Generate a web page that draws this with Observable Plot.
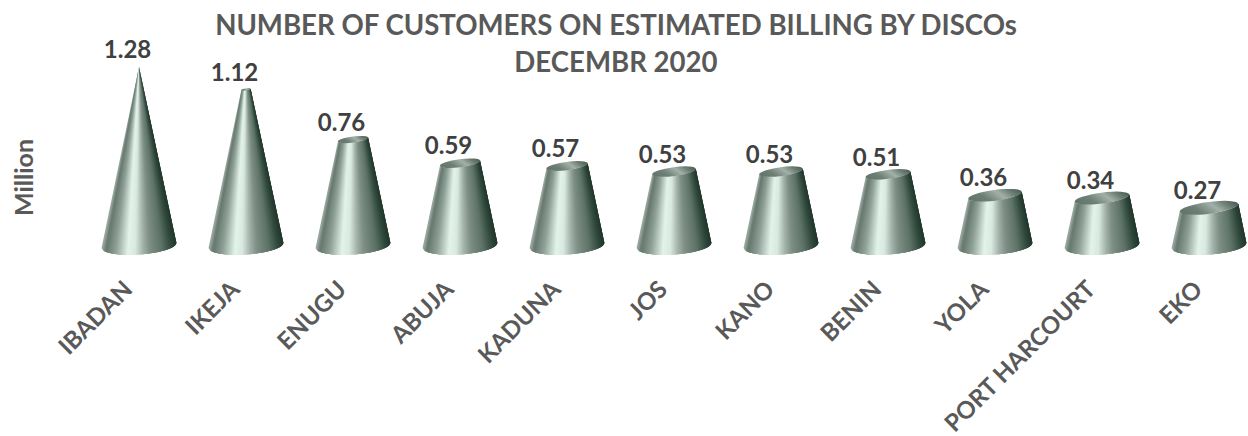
<!DOCTYPE html>
<html>
<head>
<meta charset="utf-8">
<script src="https://cdn.jsdelivr.net/npm/d3@7"></script>
<script src="https://cdn.jsdelivr.net/npm/@observablehq/plot@0.6"></script>
<style>
html,body{margin:0;padding:0;background:#fff;width:1248px;height:436px;overflow:hidden}
#wrap{position:relative;width:1248px;height:436px}
#title{position:absolute;left:0;top:7px;width:1232px;text-align:center;font:700 27.6px/36.5px Lato,sans-serif;color:#595959;z-index:2}
</style>
</head>
<body>
<div id="wrap"><div id="title">NUMBER OF CUSTOMERS ON ESTIMATED BILLING BY DISCOs<br>DECEMBR 2020</div></div>
<script>
const discos = ["IBADAN","IKEJA","ENUGU","ABUJA","KADUNA","JOS","KANO","BENIN","YOLA","PORT HARCOURT","EKO"];
const customers = [1.28,1.12,0.76,0.59,0.57,0.53,0.53,0.51,0.36,0.34,0.27];
const rows = discos.map((name,i)=>({name,value:customers[i]}));

// conical shading, left to right round the visible side of the cone
const shade = d3.scaleLinear()
  .domain([0,0.05,0.18,0.34,0.44,0.54,0.64,0.8,0.93,1])
  .range(["#a0aea6","#66776d","#8fa198","#e2f3ea","#d9e9e1","#a6b5ad","#7e8f86","#5e7368","#2f473b","#21362b"]);

const SVGNS = "http://www.w3.org/2000/svg";
const BASE_RX = 37.5, BASE_RY = 9, TOP_RATIO = 0.2, BASE_TILT = 4, TOP_TILT = 7.5, SLICES = 60;

function rim(cx, cy, rx, ry, tiltDeg, u){
  const a = tiltDeg*Math.PI/180, lx = rx*u, ly = ry*Math.sqrt(Math.max(0,1-u*u));
  return [cx + lx*Math.cos(a) + ly*Math.sin(a), cy - lx*Math.sin(a) + ly*Math.cos(a)];
}

function cones(index, scales, values, dimensions, context){
  const doc = context.document;
  const g = doc.createElementNS(SVGNS,"g");
  const defs = doc.createElementNS(SVGNS,"defs");
  const lg = doc.createElementNS(SVGNS,"linearGradient");
  lg.setAttribute("id","capGrad");
  lg.setAttribute("gradientTransform","rotate(-12 .5 .5)");
  [[0,"#62746a"],[0.3,"#6e8076"],[0.6,"#a3b0a9"],[0.8,"#6f8177"],[1,"#4c5f55"]].forEach(([o,c])=>{
    const s = doc.createElementNS(SVGNS,"stop");
    s.setAttribute("offset",o); s.setAttribute("stop-color",c); lg.appendChild(s);
  });
  defs.appendChild(lg); g.appendChild(defs);
  const yApex = scales.y(d3.max(customers));
  for(const i of index){
    const cx = values.x[i], yBase = values.y1[i], yTop = values.y2[i];
    const f = (yTop-yApex)/(yBase-yApex);
    const rxT = BASE_RX*f, ryT = rxT*TOP_RATIO;
    for(let k=0;k<SLICES;k++){
      const u0=2*k/SLICES-1, u1=2*Math.min(SLICES,k+1)/SLICES-1, um=2*Math.min(SLICES,k+3)/SLICES-1;
      const pts=[rim(cx,yBase,BASE_RX,BASE_RY,BASE_TILT,u0),rim(cx,yBase,BASE_RX,BASE_RY,BASE_TILT,u1),
                 rim(cx,yBase,BASE_RX,BASE_RY,BASE_TILT,um),rim(cx,yTop,rxT,ryT,TOP_TILT,um),
                 rim(cx,yTop,rxT,ryT,TOP_TILT,u1),rim(cx,yTop,rxT,ryT,TOP_TILT,u0)];
      const p = doc.createElementNS(SVGNS,"polygon");
      p.setAttribute("points",pts.map(q=>q.map(v=>v.toFixed(2)).join(",")).join(" "));
      p.setAttribute("fill",shade((k+0.5)/SLICES));
      g.appendChild(p);
    }
    if(rxT>0.5){
      const e = doc.createElementNS(SVGNS,"ellipse");
      e.setAttribute("cx",cx); e.setAttribute("cy",yTop);
      e.setAttribute("rx",rxT); e.setAttribute("ry",ryT);
      e.setAttribute("transform",`rotate(${-TOP_TILT} ${cx} ${yTop})`);
      e.setAttribute("fill","url(#capGrad)");
      g.appendChild(e);
    }
  }
  return g;
}

const chart = Plot.plot({
  width:1248, height:436,
  marginLeft:40, marginRight:0, marginTop:86, marginBottom:168,
  style:{fontFamily:"Lato, sans-serif", background:"transparent"},
  x:{type:"point", domain:discos, range:[137.5,1211], padding:0},
  y:{domain:[0,1.28], range:[245.5,67]},
  marks:[
    Plot.ruleX(rows,{x:"name", y1:0, y2:"value", render:cones}),
    Plot.text(rows,{x:"name", y:"value", text:d=>d.value.toFixed(2), dx:-12, dy:-17,
      fill:"#404040", fontSize:24, fontWeight:700, fontFamily:"Lato, sans-serif"}),
    Plot.axisX({anchor:"bottom", tickSize:0, tickPadding:8, tickRotate:-45, label:null, dx:-11, dy:9,
      fontSize:24, fontWeight:700, color:"#595959"}),
    Plot.axisY({anchor:"left", ticks:[], tickSize:0, label:"Million", labelAnchor:"center",
      labelArrow:"none", labelOffset:25, fontSize:25, fontWeight:700, color:"#595959"})
  ]
});
document.getElementById("wrap").appendChild(chart);
</script>
</body>
</html>
